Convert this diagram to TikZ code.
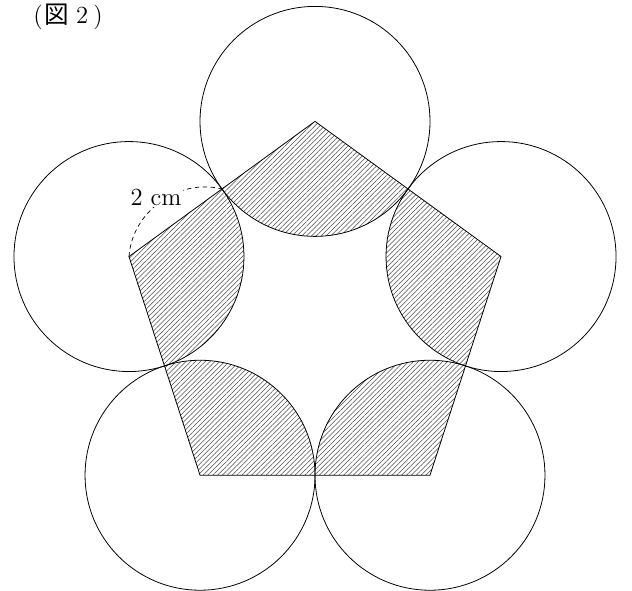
\documentclass[tikz,border=0pt]{standalone}
\usepackage{fontspec}
\newfontfamily\jpfont{Noto Sans CJK JP}
\usetikzlibrary{patterns.meta,calc}

\begin{document}
\begin{tikzpicture}[x=0.02cm,y=0.02cm,
  font=\fontsize{14}{16}\selectfont,
  rim/.style={draw=black,line width=0.45pt},
  hatch/.style={pattern={Lines[angle=45,distance=1.95pt,line width=0.3pt]},pattern color=black!70},
  dim/.style={draw=black,dash pattern=on 2.5pt off 2pt,line width=0.4pt},
]
\useasboundingbox (0,0) rectangle (632,591);
\coordinate (O) at (315,274);
\foreach \i/\a in {1/90,2/162,3/234,4/306,5/18}
  \coordinate (P\i) at ($(O)+(\a:195.6)$);
% shaded parts: circles inside the pentagon
\begin{scope}
  \clip (P1)--(P2)--(P3)--(P4)--(P5)--cycle;
  \fill[hatch] (P1) circle[radius=115] (P2) circle[radius=115] (P3) circle[radius=115]
    (P4) circle[radius=115] (P5) circle[radius=115];
\end{scope}
\draw[rim] (P1)--(P2)--(P3)--(P4)--(P5)--cycle;
\foreach \i in {1,...,5}
  \draw[rim] (P\i) circle[radius=115];
% radius mark
\coordinate (M) at ($(P2)!0.5!(P1)$);
\draw[dim] (P2) to[bend left=50] (M);
\node[fill=white,inner sep=1pt] (rlab) at (156,394) {2 cm};
\node (fig) at (68,574) {(\hspace{1pt}{\jpfont 図}\hspace{4pt}2\hspace{3pt})};
\end{tikzpicture}
\end{document}
